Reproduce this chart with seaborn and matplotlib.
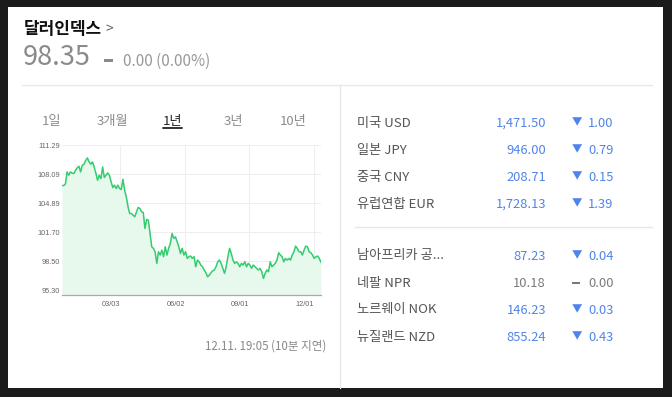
import numpy as np
import pandas as pd
import matplotlib
matplotlib.use('Agg')
import matplotlib.pyplot as plt
from matplotlib.patches import Rectangle
from matplotlib.lines import Line2D
import seaborn as sns

# ---------------- data ----------------
title = '달러인덱스'
last_price = '98.35'
change_text = '0.00 (0.00%)'
periods = ['1일', '3개월', '1년', '3년', '10년']
selected_period = '1년'

dxy_values = [
    106.81, 106.85, 107.00, 108.35, 107.98, 108.35, 108.20, 108.17, 108.53, 108.80,
    108.97, 108.35, 109.09, 109.20, 109.60, 109.89, 109.45, 109.20, 109.45, 108.90,
    108.20, 107.43, 107.98, 107.61, 108.90, 107.73, 107.98, 108.24, 107.98, 107.25,
    106.62, 106.88, 106.51, 106.88, 106.51, 106.40, 107.54, 106.33, 105.59, 104.50,
    103.75, 103.75, 103.57, 103.39, 103.94, 104.42, 104.31, 103.94, 103.87, 102.10,
    103.09, 103.02, 101.55, 100.08, 99.90, 99.53, 98.24, 99.53, 99.16, 99.71,
    98.98, 100.08, 99.16, 99.90, 100.45, 101.55, 101.00, 101.18, 100.63, 100.08,
    99.34, 99.90, 99.16, 99.53, 98.79, 98.98, 99.05, 98.79, 98.98, 97.87,
    98.61, 98.42, 98.06, 97.87, 97.51, 97.21, 96.77, 96.95, 97.21, 97.43,
    97.51, 97.87, 98.42, 98.61, 98.24, 97.69, 97.14, 97.87, 98.98, 99.90,
    99.34, 98.61, 98.24, 98.40, 98.24, 97.87, 98.24, 98.06, 98.42, 97.87,
    98.24, 98.06, 97.69, 98.06, 97.87, 97.69, 97.51, 97.69, 97.32, 96.59,
    97.14, 97.51, 97.32, 98.42, 97.87, 98.06, 98.24, 98.61, 99.42, 99.16,
    98.98, 98.42, 98.79, 98.61, 98.79, 98.61, 99.16, 99.53, 100.15, 99.90,
    99.53, 99.53, 99.16, 99.71, 100.15, 100.08, 99.53, 99.42, 99.16, 98.79,
    98.98, 99.05, 98.79, 98.35,
]
start_date = '2024-12-11'
end_date = '2025-12-11'
y_ticks = [95.30, 98.50, 101.70, 104.89, 108.09, 111.29]
x_tick_dates = ['2025-03-03', '2025-06-02', '2025-09-01', '2025-12-01']
x_tick_labels = ['03/03', '06/02', '09/01', '12/01']
timestamp = '12.11. 19:05 (10분 지연)'

currency_names = ['미국 USD', '일본 JPY', '중국 CNY', '유럽연합 EUR',
                  '남아프리카 공...', '네팔 NPR', '노르웨이 NOK', '뉴질랜드 NZD']
currency_rates = ['1,471.50', '946.00', '208.71', '1,728.13',
                  '87.23', '10.18', '146.23', '855.24']
currency_changes = ['1.00', '0.79', '0.15', '1.39', '0.04', '0.00', '0.03', '0.43']
currency_dirs = ['down', 'down', 'down', 'down', 'down', 'flat', 'down', 'down']

# ---------------- style ----------------
sns.set_style('white')
FONTS = ['Noto Sans CJK KR', 'DejaVu Sans']
plt.rcParams['font.family'] = FONTS

W, H = 672, 397
fig = plt.figure(figsize=(W / 100, H / 100), dpi=100)
fig.patch.set_facecolor('#1b1b1b')


def P(x, y):
    return x / W, 1 - y / H


def hline(x0, x1, y, color='#e8e8e8', lw=1.0):
    fig.add_artist(Line2D([x0 / W, x1 / W], [1 - y / H, 1 - y / H],
                          transform=fig.transFigure, color=color, lw=lw))


def vline(x, y0, y1, color='#e8e8e8', lw=1.0):
    fig.add_artist(Line2D([x / W, x / W], [1 - y0 / H, 1 - y1 / H],
                          transform=fig.transFigure, color=color, lw=lw))


# white card
fig.add_artist(Rectangle(P(8, 388), (663 - 8) / W, (388 - 7) / H,
                         transform=fig.transFigure, facecolor='white',
                         edgecolor='none', zorder=0))

# header
fig.text(*P(24, 28.5), title, fontsize=12.2, color='#111111', va='center',
         ha='left', fontweight='bold')
fig.text(*P(106, 29), '>', fontsize=10, color='#666666', va='center', ha='left')
fig.text(*P(23, 57.5), last_price, fontsize=19.5, color='#8a8a8a', va='center', ha='left')
fig.add_artist(Rectangle(P(104, 62), 9 / W, 3 / H, transform=fig.transFigure,
                         facecolor='#8a8a8a', edgecolor='none'))
fig.text(*P(123, 61), change_text, fontsize=11, color='#999999', va='center', ha='left')

hline(22, 652, 85)
vline(340, 85, 388)

# period tabs
tab_x = [52, 112.5, 172.5, 233, 293.5]
for lab, tx in zip(periods, tab_x):
    sel = lab == selected_period
    fig.text(*P(tx, 121.5), lab, fontsize=9.5, ha='center', va='center',
             color='#222222' if sel else '#8c8c8c')
    if sel:
        hline(tx - 9.5, tx + 9.5, 127.5, color='#222222', lw=1.3)

# chart
dates = pd.date_range(start_date, end_date, periods=len(dxy_values))
df = pd.DataFrame({'date': dates, 'value': dxy_values})
ax = fig.add_axes([62 / W, 1 - 295 / H, (321 - 62) / W, (295 - 145) / H])
ax.set_facecolor('none')
y_bottom = 94.75
ax.fill_between(df['date'], df['value'], y_bottom, color='#e7f8ed', lw=0, zorder=1)
sns.lineplot(data=df, x='date', y='value', ax=ax, color='#33cc6e', lw=1.1, zorder=3)
ax.set_xlim(pd.Timestamp(start_date), pd.Timestamp(end_date))
ax.set_ylim(y_bottom, 111.32)
ax.set_yticks(y_ticks)
ax.set_yticklabels([f'{v:.2f}' for v in y_ticks], family=['Liberation Sans', 'DejaVu Sans'],
                   fontsize=5.3, color='#666666')
ax.set_xticks(pd.to_datetime(x_tick_dates))
ax.set_xticklabels(x_tick_labels, family=['Liberation Sans', 'DejaVu Sans'],
                   fontsize=5.3, color='#666666')
for tl in ax.get_xticklabels():
    tl.set_ha('right')
ax.tick_params(axis='y', length=0, pad=1.5)
ax.tick_params(axis='x', length=2, width=0.6, color='#999999', pad=2.5, direction='out')
ax.grid(True, color='#eeeeee', lw=0.8, zorder=0)
ax.set_axisbelow(True)
for s in ['top', 'left', 'right']:
    ax.spines[s].set_visible(False)
ax.spines['bottom'].set_color('#aaaaaa')
ax.spines['bottom'].set_linewidth(0.9)
ax.set_xlabel('')
ax.set_ylabel('')

fig.text(*P(326, 346.5), timestamp, fontsize=8.3, color='#888888', ha='right', va='center')

# currency table
row_y = [123.3, 150.7, 177.7, 204.3, 256, 283.3, 310, 337.3]
BLUE = '#4f84ea'
for name, rate, chg, d, ry in zip(currency_names, currency_rates, currency_changes,
                                  currency_dirs, row_y):
    fig.text(*P(357, ry), name, fontsize=9.5, color='#555555', ha='left', va='center')
    col = BLUE if d == 'down' else '#7a7a7a'
    fig.text(*P(546, ry), rate, fontsize=9.3, color=col, ha='right', va='center')
    if d == 'down':
        fig.text(*P(577, ry - 1), '▼', fontsize=7.5, color=BLUE, ha='center',
                 va='center', family=FONTS)
    else:
        fig.add_artist(Rectangle(P(572, ry + 0.5), 8 / W, 2.2 / H,
                                 transform=fig.transFigure, facecolor='#7a7a7a',
                                 edgecolor='none'))
    fig.text(*P(588, ry), chg, fontsize=9.3, color=col, ha='left', va='center')

hline(355, 652, 227)

fig.savefig('out.png', dpi=100, facecolor=fig.get_facecolor())
